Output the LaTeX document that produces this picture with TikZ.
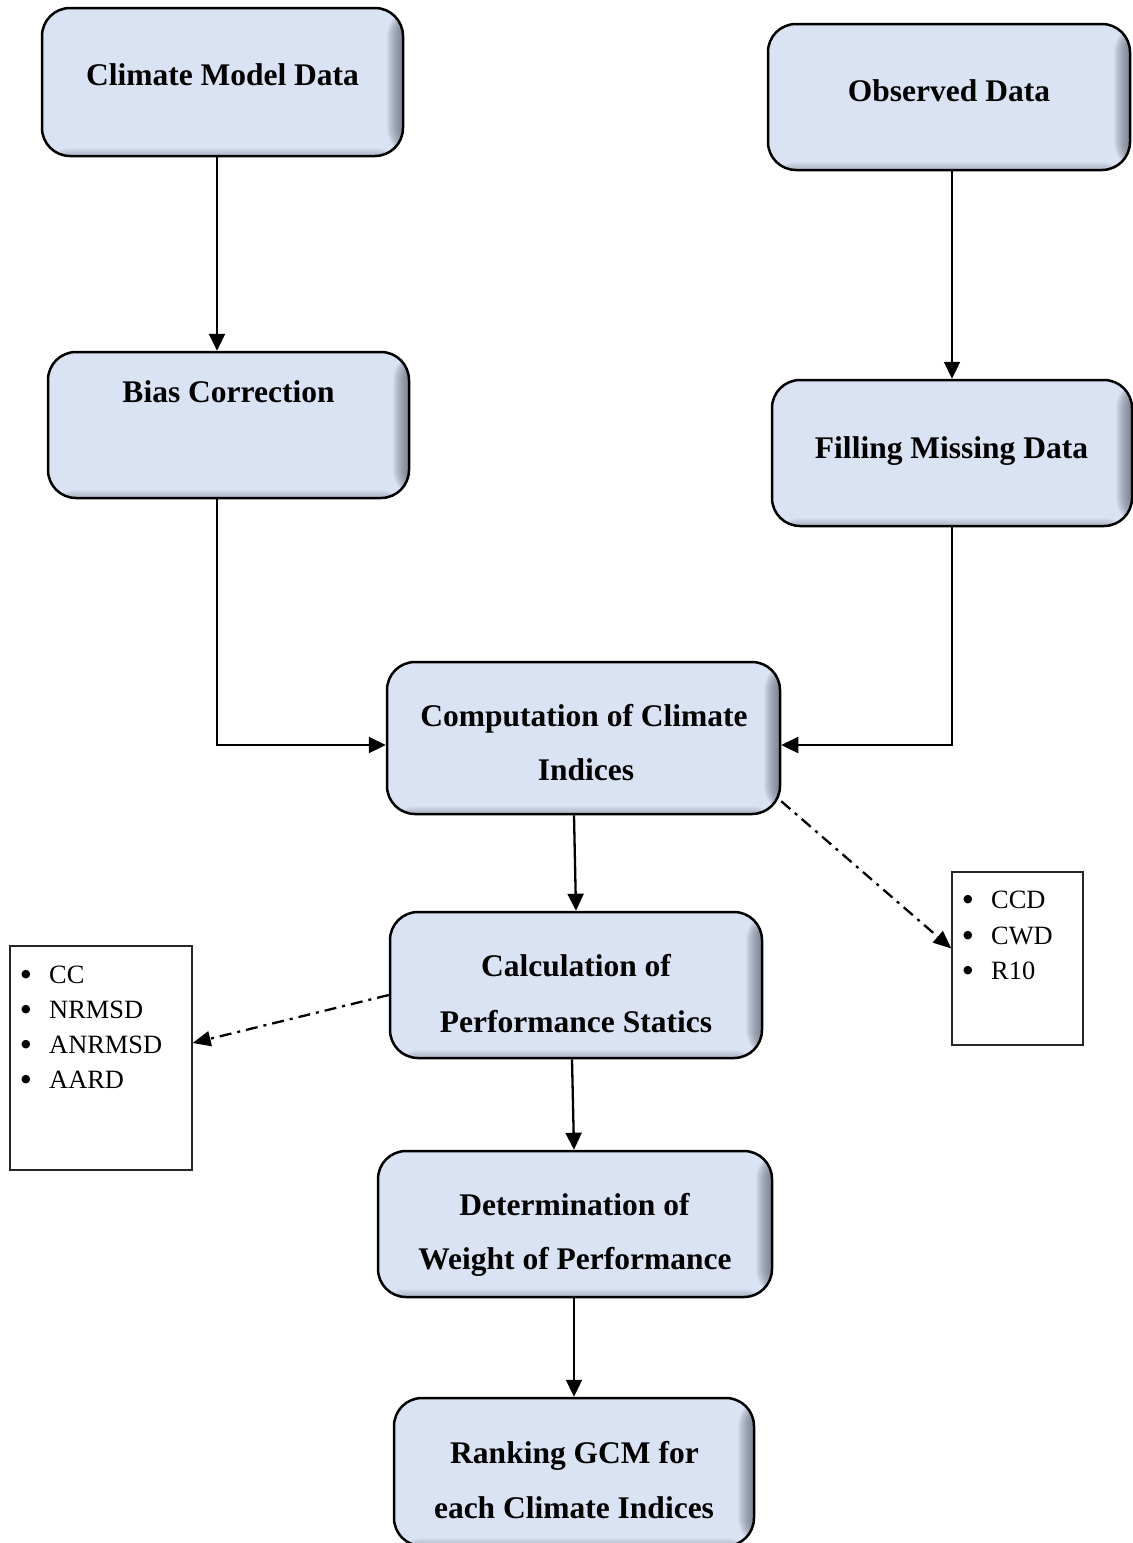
\documentclass[tikz,border=0pt]{standalone}
\usepackage{fontspec}
\setmainfont{Liberation Serif}
\newfontfamily\symfont{DejaVu Sans}
\usetikzlibrary{arrows.meta}
\definecolor{boxfill}{HTML}{DAE3F3}
\definecolor{shadowc}{HTML}{4A505C}
\begin{document}
\begin{tikzpicture}[x=1pt,y=-1pt,
  flowbox/.style={draw=black, line width=2.5pt, rounded corners=28pt, fill=boxfill, inner sep=0pt,
    path picture={
      \foreach \i in {1,...,16}{
        \fill[shadowc, opacity=0.055] ([xshift=-\i pt]path picture bounding box.north east) rectangle (path picture bounding box.south east);
      }
      \foreach \i in {1,...,8}{
        \fill[shadowc, opacity=0.04] ([yshift=\i pt]path picture bounding box.south west) rectangle (path picture bounding box.south east);
      }
    }},
  listbox/.style={draw=black!85, line width=1.3pt, fill=white, inner sep=0pt},
  boxtext/.style={font=\fontsize{31.5}{38}\selectfont\bfseries, anchor=base, inner sep=0pt},
  itemtext/.style={font=\fontsize{26.4}{32}\selectfont, anchor=base west, inner sep=0pt},
  bullettext/.style={font=\symfont\fontsize{11}{12}\selectfont, anchor=center, inner sep=0pt},
  flowarrow/.style={line width=2.3pt, -{Triangle[length=17pt,width=16pt]}},
  dasharrow/.style={line width=2.3pt, dash pattern=on 12pt off 6pt on 3pt off 6pt, -{Triangle[length=18pt,width=15pt]}}
]
\useasboundingbox (0,0) rectangle (1133,1543);

% main boxes
\node[flowbox, minimum width=361pt, minimum height=148pt] (cmd)  at (222.5,82) {};
\node[flowbox, minimum width=362pt, minimum height=146pt] (obs)  at (949,97) {};
\node[flowbox, minimum width=361pt, minimum height=146pt] (bias) at (228.5,425) {};
\node[flowbox, minimum width=360pt, minimum height=146pt] (fill) at (952,453) {};
\node[flowbox, minimum width=393pt, minimum height=152pt] (comp) at (583.5,738) {};
\node[flowbox, minimum width=372pt, minimum height=146pt] (calc) at (576,985) {};
\node[flowbox, minimum width=394pt, minimum height=146pt] (det)  at (575,1224) {};
\node[flowbox, minimum width=360pt, minimum height=148pt] (rank) at (574,1472) {};

% box texts
\node[boxtext] (tcmd)  at (222.5,85) {Climate Model Data};
\node[boxtext] (tobs)  at (949,101.5) {Observed Data};
\node[boxtext] (tbias) at (228.5,402.5) {Bias Correction};
\node[boxtext] (tfill) at (951.5,458) {Filling Missing Data};
\node[boxtext] (tcomp1) at (584,726) {Computation of Climate};
\node[boxtext] (tcomp2) at (586,780) {Indices};
\node[boxtext] (tcalc1) at (576,976) {Calculation of};
\node[boxtext] (tcalc2) at (576,1032) {Performance Statics};
\node[boxtext] (tdet1) at (574.5,1215) {Determination of};
\node[boxtext] (tdet2) at (575,1269) {Weight of Performance};
\node[boxtext] (trank1) at (574.5,1463) {Ranking GCM for};
\node[boxtext] (trank2) at (574,1518) {each Climate Indices};

% list boxes
\node[listbox, minimum width=182pt, minimum height=224pt] (llist) at (101,1058) {};
\node[listbox, minimum width=131pt, minimum height=173pt] (rlist) at (1017.5,958.5) {};

\node[bullettext] (lb1) at (26,974.5) {●};
\node[itemtext]   (li1) at (49,983) {CC};
\node[bullettext] (lb2) at (26,1010) {●};
\node[itemtext]   (li2) at (49,1018.5) {NRMSD};
\node[bullettext] (lb3) at (26,1045) {●};
\node[itemtext]   (li3) at (49,1053.5) {ANRMSD};
\node[bullettext] (lb4) at (26,1079.5) {●};
\node[itemtext]   (li4) at (49,1088) {AARD};

\node[bullettext] (rb1) at (968,899.5) {●};
\node[itemtext]   (ri1) at (991,908) {CCD};
\node[bullettext] (rb2) at (968,935.5) {●};
\node[itemtext]   (ri2) at (991,944) {CWD};
\node[bullettext] (rb3) at (968,970.5) {●};
\node[itemtext]   (ri3) at (991,979) {R10};

% connectors
\draw[flowarrow] ([xshift=-5.5pt]cmd.south) -- ([xshift=-11.5pt]bias.north);
\draw[flowarrow] ([xshift=3pt]obs.south) -- (fill.north);
\draw[flowarrow] ([xshift=-11.5pt]bias.south) |- ([yshift=-7pt]comp.west);
\draw[flowarrow] (fill.south) |- ([yshift=-7pt]comp.east);
\draw[flowarrow] ([xshift=-9.5pt]comp.south) -- (calc.north);
\draw[flowarrow] ([xshift=-4pt]calc.south) -- ([xshift=-1pt]det.north);
\draw[flowarrow] ([xshift=-1pt]det.south) -- (rank.north);
\draw[dasharrow] ([yshift=14pt]comp.south east) -- ([yshift=10pt]rlist.west);
\draw[dasharrow] ([yshift=-10pt]calc.west) -- ([yshift=15pt]llist.east);
\end{tikzpicture}
\end{document}
